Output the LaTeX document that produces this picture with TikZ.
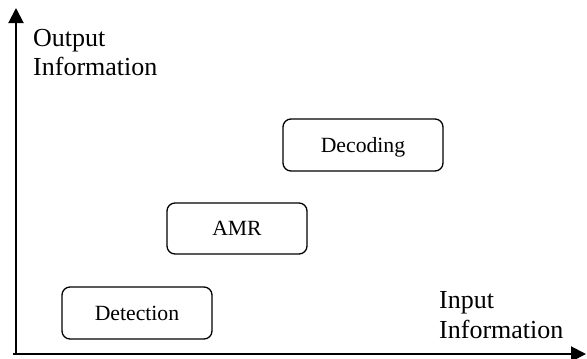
\documentclass[tikz,border=0pt]{standalone}
\usepackage{fontspec}
\setmainfont{Liberation Serif}
\usetikzlibrary{arrows.meta}
\begin{document}
\begin{tikzpicture}[x=1bp,y=-1bp,
  axis/.style={line width=2bp,-{Triangle[width=15bp,length=15bp]}},
  axislabel/.style={align=left,inner sep=0pt,anchor=base west,
    font=\fontsize{26bp}{29.5bp}\selectfont},
  stage/.style={draw,line width=1.3bp,rounded corners=8bp,inner sep=0pt,
    text height=14.4bp,text depth=0bp,
    font=\fontsize{21.7bp}{26bp}\selectfont}]
  \useasboundingbox (0,0) rectangle (587,358);
  % axes
  \coordinate (xstart) at (13,354);
  \coordinate (ystart) at (16,355);
  \coordinate (ytip) at (16,8);
  \coordinate (xtip) at (586,354);
  \draw[axis] (ystart) -- (ytip);
  \draw[axis] (xstart) -- (xtip);
  % axis labels (anchored on the baseline of the last line)
  \node[axislabel] (outlabel) at (33,75.5) {Output\\Information};
  \node[axislabel] (inlabel) at (439,338) {Input\\Information};
  % processing stages
  \node[stage,minimum width=150bp,minimum height=52bp] (detection) at (137,313) {Detection};
  \node[stage,minimum width=140bp,minimum height=51bp] (amr) at (237,228.5) {AMR};
  \node[stage,minimum width=160bp,minimum height=52bp] (decoding) at (363,145) {Decoding};
\end{tikzpicture}
\end{document}
